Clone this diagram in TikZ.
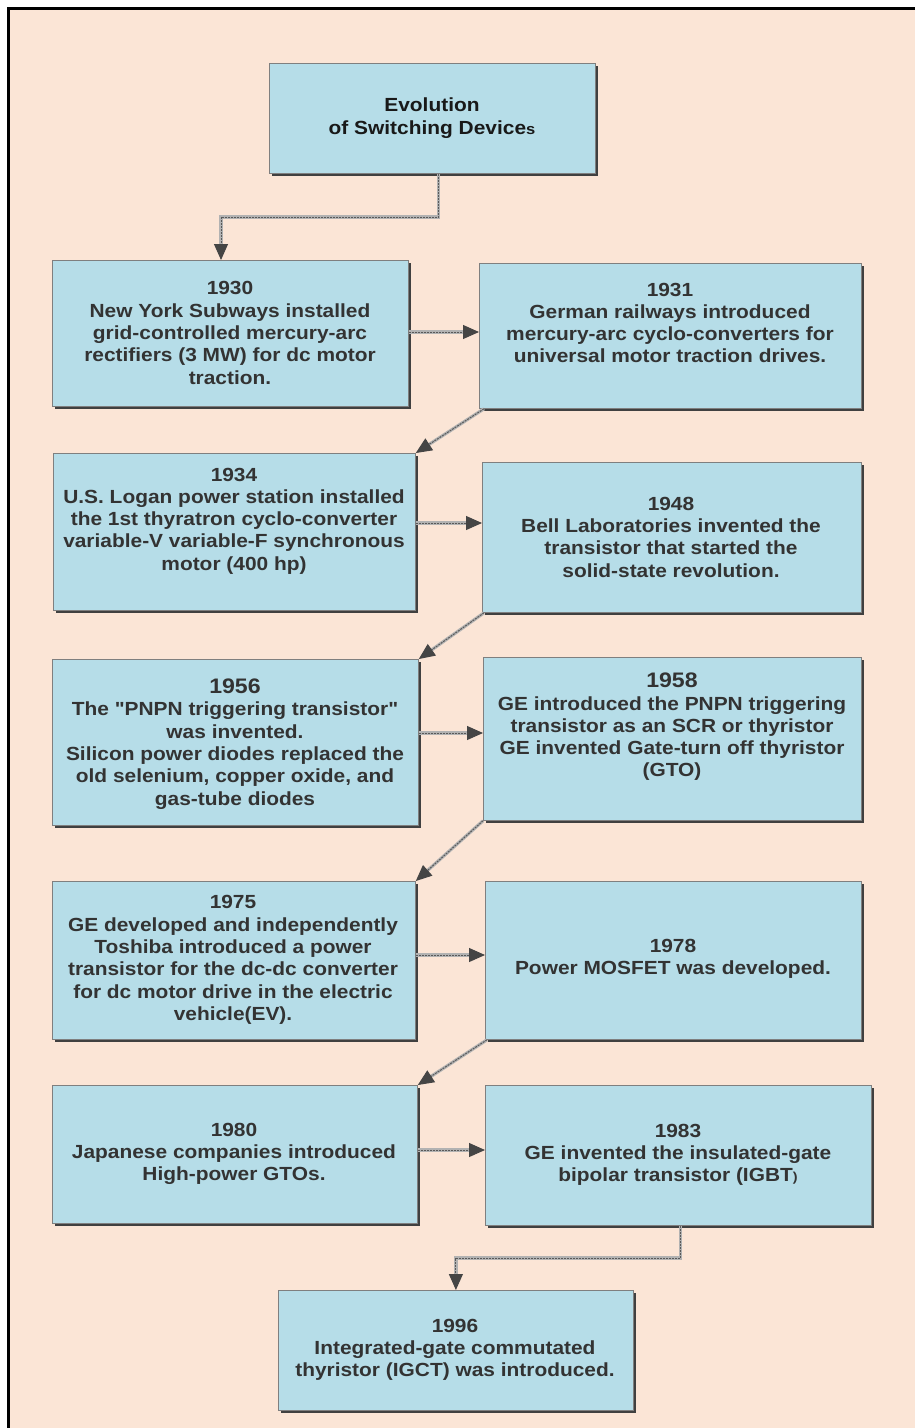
\documentclass[tikz,border=0pt]{standalone}
\usepackage{fontspec}
\setmainfont{Liberation Sans}[FakeStretch=1.1, Ligatures=TeXOff]
\usetikzlibrary{arrows.meta,shadows,calc}

\definecolor{pagebg}{HTML}{FBE5D6}
\definecolor{cardfill}{HTML}{B6DDE8}
\definecolor{cardedge}{HTML}{7F7F7F}
\definecolor{txt}{HTML}{333333}
\definecolor{tipcol}{HTML}{454545}

\tikzset{
  card/.style={draw=cardedge, line width=0.8pt, fill=cardfill, inner sep=0pt,
    anchor=north west,
    general shadow={fill=black!75, shadow xshift=2.4pt, shadow yshift=-2.4pt}},
  caption/.style={font=\bfseries\fontsize{19}{22.3}\selectfont, text=txt,
    align=center, inner sep=0pt},
  link/.style={draw=black!65, line width=1pt, dash pattern=on 2pt off 1pt,
    -{Triangle[length=16pt,width=14pt,color=tipcol]},
    preaction={draw=black!30, line width=3.2pt, solid, arrows=-, shorten >=12pt}},
}

\newcommand{\yr}[1]{{\fontsize{21}{22.3}\selectfont #1}}

\begin{document}
\begin{tikzpicture}[x=1pt, y=-1pt]
\useasboundingbox (0,0) rectangle (914,1428);
\fill[white] (0,0) rectangle (914,1428);
\draw[line width=3pt, fill=pagebg] (8,8) rectangle (1000,1500);

% cards: top-left corner, width, height
\node[card, minimum width=326, minimum height=110] (b0)    at (269,63)   {};
\node[card, minimum width=356, minimum height=146] (b1930) at (52,260)   {};
\node[card, minimum width=382, minimum height=145] (b1931) at (479,263)  {};
\node[card, minimum width=362, minimum height=157] (b1934) at (53,453)   {};
\node[card, minimum width=379, minimum height=150] (b1948) at (482,462)  {};
\node[card, minimum width=366, minimum height=166] (b1956) at (52,659)   {};
\node[card, minimum width=378, minimum height=163] (b1958) at (483,657)  {};
\node[card, minimum width=363, minimum height=158] (b1975) at (52,881)   {};
\node[card, minimum width=376, minimum height=158] (b1978) at (485,881)  {};
\node[card, minimum width=365, minimum height=138] (b1980) at (52,1085)  {};
\node[card, minimum width=386, minimum height=140] (b1983) at (485,1085) {};
\node[card, minimum width=355, minimum height=120] (b1996) at (278,1290) {};

% captions
\node[caption, text=black!90] (t0) at (432,118)
  {Evolution\\of Switching Device{\fontsize{15}{22.3}\selectfont s}};
\node[caption] (t1930) at (230,333)
  {1930\\New York Subways installed\\grid-controlled mercury-arc\\rectifiers (3 MW) for dc motor\\traction.};
\node[caption] (t1931) at (670,323)
  {1931\\German railways introduced\\mercury-arc cyclo-converters for\\universal motor traction drives.};
\node[caption] (t1934) at (234,521)
  {1934\\U.S. Logan power station installed\\the 1st thyratron cyclo-converter\\variable-V variable-F synchronous\\motor (400 hp)};
\node[caption] (t1948) at (671,537)
  {1948\\Bell Laboratories invented the\\transistor that started the\\solid-state revolution.};
\node[caption] (t1956) at (235,744)
  {\yr{1956}\\The "PNPN triggering transistor"\\was invented.\\Silicon power diodes replaced the\\old selenium, copper oxide, and\\gas-tube diodes};
\node[caption] (t1958) at (672,727)
  {\yr{1958}\\GE introduced the PNPN triggering\\transistor as an SCR or thyristor\\GE invented Gate-turn off thyristor\\(GTO)};
\node[caption] (t1975) at (233,960)
  {1975\\GE developed and independently\\Toshiba introduced a power\\transistor for the dc-dc converter\\for dc motor drive in the electric\\vehicle(EV).};
\node[caption] (t1978) at (673,959)
  {1978\\Power MOSFET was developed.};
\node[caption] (t1980) at (234,1154)
  {1980\\Japanese companies introduced\\High-power GTOs.};
\node[caption] (t1983) at (678,1155)
  {1983\\GE invented the insulated-gate\\bipolar transistor (IGBT{\fontsize{13}{22.3}\selectfont )}};
\node[caption] (t1996) at (455,1350)
  {1996\\Integrated-gate commutated\\thyristor (IGCT) was introduced.};

% heights of the horizontal and elbow connectors
\coordinate (h0) at (0,217);
\coordinate (h1) at (0,332);
\coordinate (h2) at (0,523);
\coordinate (h3) at (0,733);
\coordinate (h4) at (0,955);
\coordinate (h5) at (0,1150);
\coordinate (h6) at (0,1258);
\coordinate (s0) at ($(b0.south)+(6,0)$);
\coordinate (e0) at (221,0);

% connectors
\draw[link] (s0) -- (s0 |- h0) -- (e0 |- h0) -- (e0 |- b1930.north);
\draw[link] (b1930.east |- h1) -- (b1931.west |- h1);
\draw[link] ($(b1931.south west)+(5,0)$) -- (b1934.north east);
\draw[link] (b1934.east |- h2) -- (b1948.west |- h2);
\draw[link] ($(b1948.south west)+(2,0)$) -- (b1956.north east);
\draw[link] (b1956.east |- h3) -- (b1958.west |- h3);
\draw[link] (b1958.south west) -- (b1975.north east);
\draw[link] (b1975.east |- h4) -- (b1978.west |- h4);
\draw[link] ($(b1978.south west)+(2,0)$) -- (b1980.north east);
\draw[link] (b1980.east |- h5) -- (b1983.west |- h5);
\draw[link] ($(b1983.south)+(2,0)$) -- ($(b1983.south |- h6)+(2,0)$) -- (b1996.north |- h6) -- (b1996.north);
\end{tikzpicture}
\end{document}
